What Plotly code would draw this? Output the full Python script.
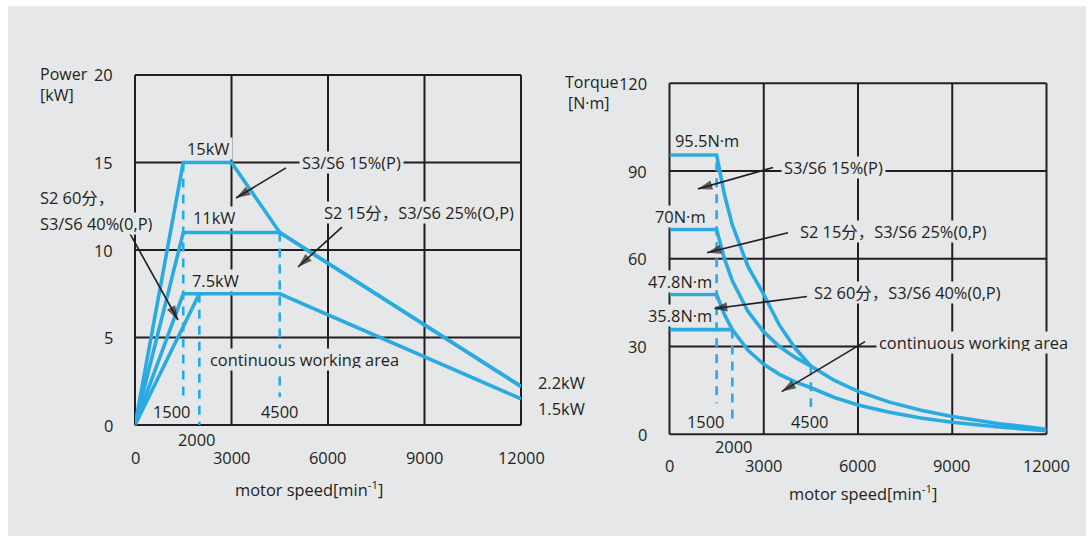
import plotly.graph_objects as go

W, H = 1092, 540
BG = "#e6e7e8"
INK = "#231f20"
CYAN = "#29abe2"
FONT = "Open Sans, Noto Sans CJK SC, sans-serif"
FS = 16.4

# ---- power curves [kW] vs motor speed [min^-1] ----
p15_speed = [0, 1500, 3000, 4500, 12000]
p15_power = [0, 15, 15, 11, 2.2]
p25_speed = [0, 1500, 4500, 12000]
p25_power = [0, 11, 11, 2.2]
p40_speed = [0, 1500, 4500, 12000]
p40_power = [0, 7.5, 7.5, 1.5]
p60_speed = [0, 2000]
p60_power = [0, 7.5]

# ---- torque curves [N·m] vs motor speed ----
t15_speed = [0, 1500, 1750, 2000, 2500, 3000, 3500, 4000, 4500, 5250, 6000, 7000, 8000, 9000, 10500, 12000]
t15_torque = [95.5, 95.5, 81.9, 71.6, 57.3, 47.8, 37.3, 29.4, 23.3, 18.4, 14.7, 11.0, 8.2, 6.1, 3.6, 1.75]
t25_speed = [0, 1500, 1750, 2000, 2500, 3000, 3500, 4000, 4500]
t25_torque = [70, 70, 60.0, 52.5, 42.0, 35.0, 30.0, 26.3, 23.3]
t40_speed = [0, 1500, 1750, 2000, 2500, 3000, 3500, 4000, 4500, 5250, 6000, 7000, 8000, 9000, 10500, 12000]
t40_torque = [47.8, 47.8, 40.9, 35.8, 28.7, 23.9, 20.5, 17.9, 15.9, 12.6, 10.0, 7.5, 5.6, 4.1, 2.5, 1.2]
t60_speed = [0, 2000]
t60_torque = [35.8, 35.8]

# ---- dashed speed markers: (speed, top, bottom) ----
power_marks = [(1500, 15, 1.6), (2000, 7.5, 0), (4500, 11, 1.6)]
torque_marks = [(1500, 93, 10.6), (2000, 35.8, 3.9), (4500, 23.3, 9.3)]

power_ticks = [0, 5, 10, 15, 20]
torque_ticks = [0, 30, 60, 90, 120]
speed_ticks = [0, 3000, 6000, 9000, 12000]
SPEED_MAX, POWER_MAX, TORQUE_MAX = 12000, 20, 120

# plot-area geometry in pixels
LX0, LX1, LY0, LY1 = 135, 521, 425, 75          # power chart
RX0, RX1, RY0, RY1 = 669.5, 1046.5, 434.3, 83.3  # torque chart


def px(x, y):
    """pixel position -> paper coordinates"""
    return x / W, 1 - y / H


def left_px(s, p):
    return LX0 + s / SPEED_MAX * (LX1 - LX0), LY0 - p / POWER_MAX * (LY0 - LY1)


def right_px(s, t):
    return RX0 + s / SPEED_MAX * (RX1 - RX0), RY0 - t / TORQUE_MAX * (RY0 - RY1)


fig = go.Figure()


def curve(xs, ys, xa, ya):
    fig.add_trace(go.Scatter(x=xs, y=ys, mode="lines", xaxis=xa, yaxis=ya,
                             line=dict(color=CYAN, width=3.6),
                             hoverinfo="skip", showlegend=False))


def dashed(marks, xa, ya):
    for s, top, bot in marks:
        fig.add_trace(go.Scatter(x=[s, s], y=[top, bot], mode="lines", xaxis=xa, yaxis=ya,
                                 line=dict(color=CYAN, width=2.6, dash="9px,7px"),
                                 hoverinfo="skip", showlegend=False))


dashed(power_marks, "x", "y")
curve(p60_speed, p60_power, "x", "y")
curve(p40_speed, p40_power, "x", "y")
curve(p25_speed, p25_power, "x", "y")
curve(p15_speed, p15_power, "x", "y")

dashed(torque_marks, "x2", "y2")
curve(t60_speed, t60_torque, "x2", "y2")
curve(t40_speed, t40_torque, "x2", "y2")
curve(t25_speed, t25_torque, "x2", "y2")
curve(t15_speed, t15_torque, "x2", "y2")

hidden = dict(visible=False, fixedrange=True)
fig.update_layout(
    width=W, height=H,
    margin=dict(l=0, r=0, t=0, b=0),
    paper_bgcolor="white", plot_bgcolor="rgba(0,0,0,0)",
    font=dict(family=FONT, size=FS, color=INK),
    xaxis=dict(domain=[LX0 / W, LX1 / W], range=[0, SPEED_MAX], anchor="y", **hidden),
    yaxis=dict(domain=[1 - LY0 / H, 1 - LY1 / H], range=[0, POWER_MAX], anchor="x", **hidden),
    xaxis2=dict(domain=[RX0 / W, RX1 / W], range=[0, SPEED_MAX], anchor="y2", **hidden),
    yaxis2=dict(domain=[1 - RY0 / H, 1 - RY1 / H], range=[0, TORQUE_MAX], anchor="x2", **hidden),
    xaxis3=dict(domain=[0, 1], range=[0, 1], anchor="y3", **hidden),
    yaxis3=dict(domain=[0, 1], range=[0, 1], anchor="x3", **hidden),
)

# grey panel behind everything
x0, y0 = px(8, 6)
x1, y1 = px(1086, 536)
fig.add_shape(type="rect", xref="paper", yref="paper", x0=x0, y0=y1, x1=x1, y1=y0,
              fillcolor=BG, line=dict(width=0), layer="below")


def seg(a, b):
    (ax_, ay_), (bx_, by_) = px(*a), px(*b)
    fig.add_shape(type="line", xref="paper", yref="paper", x0=ax_, y0=ay_, x1=bx_, y1=by_,
                  line=dict(color=INK, width=2), layer="below")


def label(text, x, y, anchor="center", bg=True, size=FS):
    ax, ay = px(x, y)
    fig.add_annotation(text=text, x=ax, y=ay, xref="paper", yref="paper",
                       xanchor=anchor, yanchor="middle", showarrow=False,
                       font=dict(family=FONT, size=size, color=INK),
                       bgcolor=BG if bg else None, borderpad=2,
                       height=17 if bg else None)


# ---- grids, frames and tick labels ----
for s in speed_ticks:
    seg(left_px(s, 0), left_px(s, POWER_MAX))
    seg(right_px(s, 0), right_px(s, TORQUE_MAX))
    label(f"{s}", left_px(s, 0)[0], 457, bg=False)
    label(f"{s}", right_px(s, 0)[0], 465, bg=False)
for p in power_ticks:
    seg(left_px(0, p), left_px(SPEED_MAX, p))
    label(f"{p}", 116, left_px(0, p)[1], "right", bg=False)
for t in torque_ticks:
    seg(right_px(0, t), right_px(SPEED_MAX, t))
    label(f"{t}", 650, right_px(0, t)[1], "right", bg=False)


def arrow(head, tail, to_px):
    """black leader line with a filled arrow head"""
    hx, hy = to_px(*head)
    tx, ty = to_px(*tail)
    a, b = px(tx, ty)
    c, d = px(hx, hy)
    fig.add_shape(type="line", xref="paper", yref="paper", x0=a, y0=b, x1=c, y1=d,
                  line=dict(color=INK, width=1.6))
    fig.add_trace(go.Scatter(x=[a, c], y=[b, d], xaxis="x3", yaxis="y3", mode="markers",
                             marker=dict(symbol="arrow", size=[0, 15], angleref="previous",
                                         color=INK, line=dict(width=0)),
                             cliponaxis=False, hoverinfo="skip", showlegend=False))


# ---- left chart texts ----
label("Power", 37, 74, "left", bg=False, size=16)
label("[kW]", 37, 95, "left", bg=False, size=16)
label("15kW", 209, 148)
label("11kW", 214, 218)
label("7.5kW", 215, 280)
label("S3/S6 15%(P)", 351, 163)
label("S2 15分，S3/S6 25%(O,P)", 419, 212)
label("S2 60分，", 37, 197, "left")
label("S3/S6 40%(0,P)", 37, 223, "left")
label("continuous working area", 304, 359)
label("2.2kW", 535, 382, "left", bg=False)
label("1.5kW", 535, 408, "left", bg=False)
label("1500", 172, 411, bg=False)
label("4500", 280, 411, bg=False)
label("2000", 197, 439, bg=False)
label("motor speed[min<sup>-1</sup>]", 309, 489, bg=False)

arrow((3140, 12.97), (4694, 14.69), left_px)
arrow((5067, 9.03), (6435, 11.31), left_px)
arrow((1337, 6.0), (-187, 11.03), left_px)

# ---- right chart texts ----
label("Torque", 562, 82, "left", bg=False, size=16)
label("[N·m]", 565, 103, "left", bg=False, size=16)
label("95.5N·m", 707, 140)
label("70N·m", 680, 216)
label("47.8N·m", 680, 281)
label("35.8N·m", 680, 315)
label("S3/S6 15%(P)", 833, 167)
label("S2 15分，S3/S6 25%(0,P)", 893, 231)
label("S2 60分，S3/S6 40%(0,P)", 907, 292)
label("continuous working area", 973, 342)
label("1500", 706, 421, bg=False)
label("4500", 810, 421, bg=False)
label("2000", 734, 447, bg=False)
label("motor speed[min<sup>-1</sup>]", 863, 493, bg=False)

arrow((907, 83.9), (3294, 91.2), right_px)
arrow((1194, 62.1), (3772, 68.9), right_px)
arrow((1385, 42.9), (4377, 47.1), right_px)
arrow((3571, 14.6), (6223, 31.7), right_px)

fig.write_html("out.html")
